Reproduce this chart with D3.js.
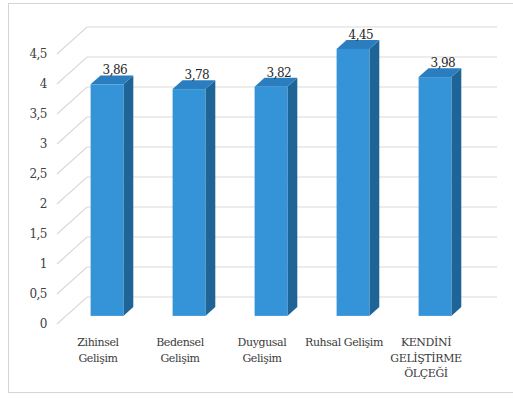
<!DOCTYPE html>
<html>
<head>
<meta charset="utf-8">
<script src="https://cdn.jsdelivr.net/npm/d3@7"></script>
<style>
  body { margin: 0; background: #fff; }
  svg { display: block; }
</style>
</head>
<body>
<div id="chart"></div>
<script>
// chart data
const categories = ["Zihinsel Gelişim", "Bedensel Gelişim", "Duygusal Gelişim", "Ruhsal Gelişim", "KENDİNİ GELİŞTİRME ÖLÇEĞİ"]
const labelLines = [["Zihinsel", "Gelişim"], ["Bedensel", "Gelişim"], ["Duygusal", "Gelişim"], ["Ruhsal Gelişim"], ["KENDİNİ", "GELİŞTİRME", "ÖLÇEĞİ"]]
const values = [3.86, 3.78, 3.82, 4.45, 3.98]
const ticks = [0, 0.5, 1, 1.5, 2, 2.5, 3, 3.5, 4, 4.5]

const width = 513
const height = 403
const depthX = 30   // shift of the back wall
const depthY = -27
const zFront = 0.3  // bar depth position (0 = front, 1 = back)
const zBack = 0.63
const font = "'DejaVu Serif', 'Liberation Serif', 'Times New Roman', serif"

const svg = d3.select("#chart").append("svg")
    .attr("width", width)
    .attr("height", height)
    .style("font-family", font)

// outer border
svg.append("rect")
    .attr("x", 8.5).attr("y", 3.5)
    .attr("width", 530).attr("height", 389)
    .attr("fill", "#fff")
    .attr("stroke", "#d4d4d4")

const x = d3.scaleBand()
    .domain(categories)
    .range([57, 467])
    .paddingInner(0.6)
    .paddingOuter(0.3)

const y = d3.scaleLinear()
    .domain([0, 4.5])
    .range([324, 54])

function pt(px, py, z) {
    return [px + depthX * z, py + depthY * z]
}
function poly(points) {
    return "M" + points.map(p => p.join(",")).join("L") + "Z"
}

const x0 = x.range()[0], x1 = x.range()[1]

// grid: back wall lines and side wall diagonals
const grid = svg.append("g")
    .attr("stroke", "#d9d9d9")
    .attr("stroke-width", 1.2)
    .attr("fill", "none")

ticks.forEach(t => {
    const a = pt(x0, y(t), 0)
    const b = pt(x0, y(t), 1)
    const c = pt(x1, y(t), 1)
    grid.append("path").attr("d", `M${a}L${b}L${c}`)
})

// tick labels
svg.append("g")
    .selectAll("text")
    .data(ticks)
    .enter()
    .append("text")
    .attr("x", 47)
    .attr("y", d => y(d) + 4)
    .attr("text-anchor", "end")
    .attr("font-size", 12)
    .attr("letter-spacing", -0.5)
    .attr("fill", "#404040")
    .text(d => String(d).replace(".", ","))

// bars
const bars = svg.append("g")
values.forEach((v, i) => {
    const left = x(categories[i])
    const right = left + x.bandwidth()
    const top = y(v), bottom = y(0)
    const g = bars.append("g")
    // side face
    g.append("path")
        .attr("d", poly([pt(right, top, zFront), pt(right, top, zBack), pt(right, bottom, zBack), pt(right, bottom, zFront)]))
        .attr("fill", "#1f6496")
    // top face
    g.append("path")
        .attr("d", poly([pt(left, top, zFront), pt(left, top, zBack), pt(right, top, zBack), pt(right, top, zFront)]))
        .attr("fill", "#2a7ebf")
    // front face
    const f = pt(left, top, zFront)
    g.append("rect")
        .attr("x", f[0])
        .attr("y", f[1])
        .attr("width", x.bandwidth())
        .attr("height", bottom - top)
        .attr("fill", "#3594d8")

    // value label
    const c = pt(left + x.bandwidth() / 2, top, zBack)
    g.append("text")
        .attr("x", c[0] - 2)
        .attr("y", c[1] - 1)
        .attr("text-anchor", "middle")
        .attr("font-size", 12)
        .attr("letter-spacing", -0.5)
        .attr("fill", "#262626")
        .text(String(v).replace(".", ","))
})

// category labels
svg.append("g")
    .selectAll("text")
    .data(categories)
    .enter()
    .append("text")
    .attr("x", d => x(d) + x.bandwidth() / 2)
    .attr("y", 346)
    .attr("text-anchor", "middle")
    .attr("font-size", 11)
    .attr("letter-spacing", -0.4)
    .attr("fill", "#3a3a3a")
    .each(function(d, i) {
        d3.select(this).selectAll("tspan")
            .data(labelLines[i])
            .enter()
            .append("tspan")
            .attr("x", x(d) + x.bandwidth() / 2)
            .attr("dy", (l, j) => j === 0 ? 0 : 15.5)
            .text(l => l)
    })
</script>
</body>
</html>
